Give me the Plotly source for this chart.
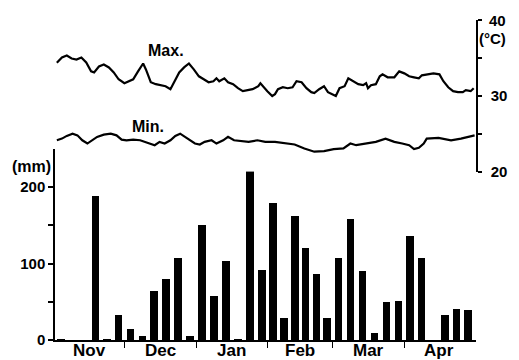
import plotly.graph_objects as go

# ---- data ----
months = ["Nov", "Dec", "Jan", "Feb", "Mar", "Apr"]
month_start = [0, 30, 61, 92, 120, 151]
month_len = [30, 31, 31, 28, 31, 30]

# pentad rainfall (mm), 6 per month
rain_nov = [1, 0, 0, 188, 2, 33]
rain_dec = [15, 6, 64, 80, 107, 6]
rain_jan = [151, 58, 103, 2, 238, 92]
rain_feb = [180, 29, 162, 120, 86, 29]
rain_mar = [108, 158, 91, 10, 50, 51]
rain_apr = [136, 108, 0, 33, 41, 39]

# daily max temperature readings (day since Nov 1, deg C)
tmax_day = [0.8, 3.0, 5.1, 7.2, 9.3, 11.4, 13.5, 15.6, 16.9, 19.0, 21.1, 23.3, 25.4, 27.5,
            30.0, 31.7, 33.8, 35.9, 38.1, 39.3, 41.4, 43.6, 45.7, 47.8, 49.9, 51.6, 53.7,
            55.8, 57.9, 60.0, 62.2, 64.3, 66.4, 68.5, 69.8, 71.0, 73.2, 74.8, 77.0, 79.1,
            81.2, 83.3, 85.4, 87.9, 88.8, 91.8, 93.9, 95.1, 96.4, 98.5, 100.6, 102.7, 104.4,
            106.6, 108.7, 110.8, 112.1, 114.2, 116.3, 118.0, 120.1, 121.4, 123.0, 125.2,
            126.8, 129.0, 131.1, 133.2, 134.5, 135.3, 136.6, 138.7, 140.4, 141.6, 143.8,
            146.7, 148.8, 151.0, 153.1, 155.2, 157.3, 158.6, 160.7, 163.6, 166.2, 167.9,
            170.0, 172.1, 174.2, 176.3, 177.6, 179.7, 181.0]
tmax_val = [34.35, 35.05, 35.31, 34.92, 34.79, 35.05, 34.39, 33.22, 33.09, 33.87, 34.13,
            33.74, 33.09, 32.18, 31.66, 31.92, 32.18, 33.22, 34.26, 33.48, 31.79, 31.53,
            31.40, 31.26, 30.87, 31.92, 33.09, 33.74, 34.26, 33.48, 32.57, 32.18, 31.79,
            31.92, 32.31, 31.92, 32.31, 31.79, 31.53, 31.00, 30.62, 30.74, 30.87, 31.26,
            31.66, 30.61, 29.96, 30.22, 30.87, 31.13, 31.00, 31.13, 31.92, 31.79, 31.00,
            30.48, 30.35, 30.87, 31.26, 30.48, 30.22, 29.96, 31.00, 31.26, 32.31, 31.92,
            31.53, 31.40, 31.66, 31.00, 31.40, 31.53, 32.57, 32.83, 32.44, 32.44, 33.22,
            32.96, 32.57, 32.44, 32.31, 32.70, 32.83, 32.96, 32.83, 31.92, 31.13, 30.61,
            30.48, 30.48, 30.74, 30.61, 31.00]

# daily min temperature readings
tmin_day = [0.8, 3.0, 5.1, 7.6, 9.7, 11.8, 14.0, 16.1, 18.2, 21.1, 24.1, 26.6, 28.8, 30.9,
            33.8, 36.8, 38.9, 41.0, 43.1, 45.2, 47.4, 49.9, 52.0, 54.1, 56.2, 58.4, 60.5,
            62.6, 64.7, 67.7, 69.8, 72.7, 74.8, 77.4, 80.3, 83.7, 87.5, 90.9, 95.1, 99.4,
            103.6, 107.8, 112.1, 116.3, 120.5, 124.7, 127.7, 130.2, 134.5, 138.7, 142.9,
            146.7, 150.1, 153.1, 155.2, 157.3, 159.4, 160.7, 165.8, 168.3, 171.2, 175.5,
            179.7, 181.4]
tmin_val = [24.13, 24.35, 24.71, 25.00, 24.78, 24.13, 23.70, 24.13, 24.58, 24.88, 25.00,
            24.78, 24.22, 24.13, 24.22, 24.13, 23.92, 23.70, 23.48, 23.92, 23.70, 24.13,
            24.71, 25.00, 24.58, 24.13, 23.70, 23.57, 23.92, 24.13, 23.70, 24.13, 24.58,
            24.13, 24.00, 23.92, 24.13, 23.92, 23.92, 23.70, 23.57, 23.05, 22.62, 22.70,
            22.96, 23.05, 23.70, 23.48, 23.70, 23.92, 24.35, 23.92, 23.70, 23.48, 22.96,
            23.14, 23.70, 24.35, 24.45, 24.26, 24.13, 24.35, 24.71, 24.78]

rain_ticks = [0, 50, 100, 150, 200]
rain_ticktext = ["0", "", "100", "", "200"]
temp_ticks = [20, 25, 30, 35, 40]
temp_ticktext = ["20", "", "30", "", ""]

# ---- build ----
rain = rain_nov + rain_dec + rain_jan + rain_feb + rain_mar + rain_apr
bar_x = []
for s, L in zip(month_start, month_len):
    for i in range(6):
        bar_x.append(s + (i + 0.5) * L / 6)
month_mid = [s + L / 2 for s, L in zip(month_start, month_len)]
month_bounds = month_start[1:]

FONT = "Liberation Sans"
TICKFONT = dict(size=15, family=FONT, weight="bold", color="black")
LABFONT = dict(size=16, family=FONT, weight="bold", color="black")

fig = go.Figure()
fig.add_trace(go.Bar(x=bar_x, y=rain, width=3.3, marker=dict(color="black", line=dict(width=0)),
                     xaxis="x", yaxis="y", showlegend=False))
fig.add_trace(go.Scatter(x=tmax_day, y=tmax_val, mode="lines", line=dict(color="black", width=2.2),
                         xaxis="x", yaxis="y2", showlegend=False))
fig.add_trace(go.Scatter(x=tmin_day, y=tmin_val, mode="lines", line=dict(color="black", width=2.2),
                         xaxis="x", yaxis="y2", showlegend=False))

# page has an 8px body margin, so the figure is shifted by 8px right/down
H_PLOT = 323
fig.update_layout(
    width=511, height=352,
    margin=dict(l=47, r=34, t=12, b=17),
    paper_bgcolor="white", plot_bgcolor="white",
    font=dict(family=FONT, size=15, color="black"),
    bargap=0,
    xaxis=dict(range=[0, 182], domain=[0, 1], showgrid=False, zeroline=False,
               showline=True, linecolor="black", linewidth=1.5,
               tickvals=month_bounds, ticktext=[""] * len(month_bounds),
               ticks="outside", ticklen=6, tickcolor="black", tickwidth=1),
    yaxis=dict(range=[0, 250], domain=[0, (343 - 150) / H_PLOT], showgrid=False, zeroline=False,
               showline=True, linecolor="black", linewidth=1.5,
               tickvals=rain_ticks, ticktext=rain_ticktext,
               ticks="outside", ticklen=5, tickcolor="black", tickwidth=1.5,
               tickfont=TICKFONT),
    yaxis2=dict(range=[20, 40], domain=[(343 - 173) / H_PLOT, 1.0], anchor="x", side="right",
                showgrid=False, zeroline=False, showline=True, linecolor="black", linewidth=1.5,
                tickvals=temp_ticks, ticktext=temp_ticktext,
                ticks="outside", ticklen=4, tickcolor="black", tickwidth=1.5,
                ticklabelstandoff=6, tickfont=TICKFONT),
)

for m, xm in zip(months, month_mid):
    fig.add_annotation(x=xm, y=0, xref="x", yref="paper", text=m, showarrow=False,
                       yanchor="top", yshift=1, font=dict(size=17, family=FONT, weight="bold"))

fig.add_annotation(x=1, y=1, xref="paper", yref="paper", text="40", showarrow=False,
                   xanchor="left", yanchor="middle", xshift=11, yshift=0, font=TICKFONT)
fig.add_annotation(x=1, y=1, xref="paper", yref="paper", text="(°C)", showarrow=False,
                   xanchor="left", yanchor="middle", xshift=1, yshift=-18, font=TICKFONT)
fig.add_annotation(x=0, y=(343 - 168) / H_PLOT, xref="paper", yref="paper", text="(mm)", showarrow=False,
                   xanchor="right", yanchor="middle", xshift=-2, font=LABFONT)
fig.add_annotation(x=48, y=36.0, xref="x", yref="y2", text="Max.", showarrow=False, font=LABFONT)
fig.add_annotation(x=40, y=25.9, xref="x", yref="y2", text="Min.", showarrow=False, font=LABFONT)

fig.write_html("out.html")
